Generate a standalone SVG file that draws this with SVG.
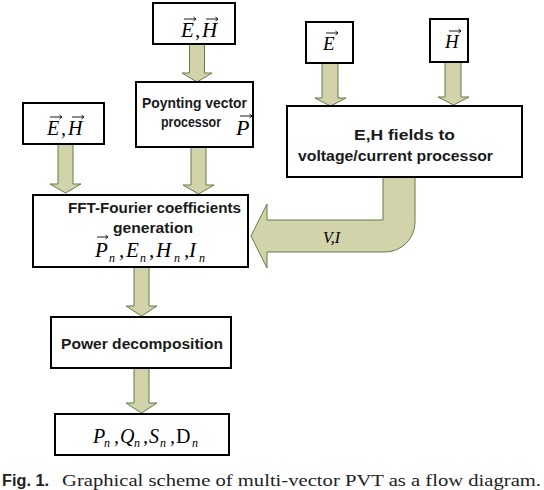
<svg xmlns="http://www.w3.org/2000/svg" width="544" height="490" viewBox="0 0 544 490">
<style>
.box{fill:#fff;stroke:#000;stroke-width:2}
.arr{fill:#d3d3ab;stroke:#5f7d45;stroke-width:1}
.lbl{font-family:"Liberation Sans",Arial,sans-serif;font-weight:bold;font-size:14.5px;fill:#1a1a1a}
.m{font-family:"Liberation Serif","Times New Roman",serif;font-style:italic;fill:#000}
.r{font-style:normal}
.vec{fill:none;stroke:#000;stroke-width:0.9}
.cap{font-family:"Liberation Serif","Times New Roman",serif;font-size:17px;fill:#222}
</style>
<rect width="544" height="490" fill="#fff"/>
<g id="connectors">
<path class="arr" d="M189.5 44 V73 H182 L197 82 L212 73 H204.5 V44 Z"/>
<path class="arr" d="M191 147 V185 H183 L198.5 194 L214 185 H206 V147 Z"/>
<path class="arr" d="M58 144 V184 H50 L65.5 193 L81 184 H73 V144 Z"/>
<path class="arr" d="M322 63 V98 H315 L330.5 106 L346 98 H338 V63 Z"/>
<path class="arr" d="M445 62 V97 H438 L453.5 105 L469 97 H461 V62 Z"/>
<path class="arr" d="M134 267 V306 H126 L141.5 316 L157 306 H149 V267 Z"/>
<path class="arr" d="M134 368 V403 H126 L141.5 413 L157 403 H149 V368 Z"/>
<path class="arr" d="M383 177 V220 H267 V204 L251 236 L267 268 V252 H385 A30 30 0 0 0 415 222 V177 Z"/>
<text class="m" x="323" y="243" font-size="16">V,I</text>
</g>
<g id="n_eh_top">
<rect class="box" x="153" y="3" width="82" height="41"/>
<text class="m" y="37" font-size="21"><tspan x="181">E</tspan><tspan x="195">,</tspan><tspan x="202">H</tspan></text>
<path class="vec" d="M184 19 H196 M193.5 17 L196 19 L193.5 21 M206 19 H218 M215.5 17 L218 19 L215.5 21"/>
</g>
<g id="n_poynting">
<rect class="box" x="136" y="82" width="117" height="65"/>
<text class="lbl" x="142" y="108" textLength="105" lengthAdjust="spacingAndGlyphs">Poynting vector</text>
<text class="lbl" x="161" y="127" textLength="60" lengthAdjust="spacingAndGlyphs">processor</text>
<text class="m" x="236" y="135" font-size="22">P</text>
<path class="vec" d="M240 116 H252 M249.5 114 L252 116 L249.5 118"/>
</g>
<g id="n_eh_left">
<rect class="box" x="23" y="103" width="81" height="41"/>
<text class="m" y="135" font-size="20"><tspan x="47">E</tspan><tspan x="61">,</tspan><tspan x="68">H</tspan></text>
<path class="vec" d="M50 117 H62 M59.5 115 L62 117 L59.5 119 M72 117 H84 M81.5 115 L84 117 L81.5 119"/>
</g>
<g id="n_e">
<rect class="box" x="306" y="22" width="47" height="41"/>
<text class="m" x="323" y="50" font-size="19">E</text>
<path class="vec" d="M326 33 H338 M335.5 31 L338 33 L335.5 35"/>
</g>
<g id="n_h">
<rect class="box" x="430" y="19" width="38" height="43"/>
<text class="m" x="445" y="48" font-size="19">H</text>
<path class="vec" d="M449 31 H461 M458.5 29 L461 31 L458.5 33"/>
</g>
<g id="n_vi_proc">
<rect class="box" x="287" y="106" width="235" height="71"/>
<text class="lbl" x="354" y="140" textLength="101" lengthAdjust="spacingAndGlyphs">E,H fields to</text>
<text class="lbl" x="298" y="161" textLength="195" lengthAdjust="spacingAndGlyphs">voltage/current processor</text>
</g>
<g id="n_fft">
<rect class="box" x="33" y="195" width="215" height="72"/>
<text class="lbl" x="68" y="213" textLength="173" lengthAdjust="spacingAndGlyphs">FFT-Fourier coefficients</text>
<text class="lbl" x="113" y="233" textLength="80" lengthAdjust="spacingAndGlyphs">generation</text>
<text class="m" y="257" font-size="21"><tspan x="95">P</tspan><tspan x="119">,</tspan><tspan x="126">E</tspan><tspan x="149">,</tspan><tspan x="156">H</tspan><tspan x="184">,</tspan><tspan x="189">I</tspan></text>
<text class="m" y="262" font-size="12"><tspan x="109">n</tspan><tspan x="140">n</tspan><tspan x="174">n</tspan><tspan x="199">n</tspan></text>
<path class="vec" d="M97 237 H108 M105.5 235 L108 237 L105.5 239"/>
</g>
<g id="n_power">
<rect class="box" x="51" y="317" width="180" height="51"/>
<text class="lbl" x="61" y="349" textLength="162" lengthAdjust="spacingAndGlyphs">Power decomposition</text>
</g>
<g id="n_result">
<rect class="box" x="55" y="414" width="174" height="41"/>
<text class="m" y="443" font-size="20"><tspan x="93">P</tspan><tspan x="114">,</tspan><tspan x="120">Q</tspan><tspan x="143">,</tspan><tspan x="149">S</tspan><tspan x="170">,</tspan><tspan x="176" class="r">D</tspan></text>
<text class="m" y="447" font-size="12"><tspan x="104">n</tspan><tspan x="134">n</tspan><tspan x="160">n</tspan><tspan x="192">n</tspan></text>
</g>
<text class="cap" y="486"><tspan x="2" font-family="'Liberation Sans',Arial,sans-serif" font-weight="bold" font-size="16" textLength="47" lengthAdjust="spacingAndGlyphs">Fig. 1.</tspan><tspan x="62" textLength="479" lengthAdjust="spacingAndGlyphs">Graphical scheme of multi-vector PVT as a flow diagram.</tspan></text>
</svg>
